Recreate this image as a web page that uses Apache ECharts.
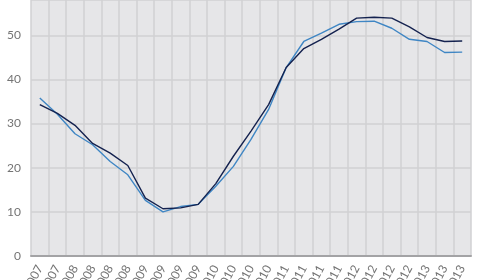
<!DOCTYPE html>
<html>
<head>
<meta charset="utf-8">
<script src="https://cdn.jsdelivr.net/npm/echarts@6/dist/echarts.min.js"></script>
<style>
html,body{margin:0;padding:0;background:#fff;}
#chart{width:480px;height:280px;}
</style>
</head>
<body>
<div id="chart"></div>
<script>
var categories = ["2007","2007","2008","2008","2008","2008","2009","2009","2009","2009","2010","2010","2010","2010","2011","2011","2011","2011","2012","2012","2012","2012","2013","2013","2013"];
var seriesDark = [34.3,32.3,29.6,25.5,23.3,20.5,13.1,10.7,10.9,11.7,16.4,22.6,28.3,34.3,42.7,47.0,49.1,51.4,53.9,54.1,53.9,51.9,49.5,48.6,48.7];
var seriesLight = [35.8,32.1,27.7,25.2,21.4,18.4,12.6,10.0,11.2,11.7,15.8,20.3,26.4,33.2,42.7,48.6,50.5,52.5,53.1,53.2,51.6,49.1,48.6,46.1,46.2];
var yTicks = [0,10,20,30,40,50];

var chart = echarts.init(document.getElementById('chart'), null, {renderer:'canvas'});
chart.setOption({
  backgroundColor:'#ffffff',
  animation:false,
  grid:{left:31,right:9,top:0,bottom:24,show:true,backgroundColor:'#e6e6e8',borderWidth:0,
        containLabel:false,outerBoundsMode:'none'},
  xAxis:{
    type:'category',
    data:categories,
    boundaryGap:true,
    axisLine:{show:true,lineStyle:{color:'#a3a3a5',width:2}},
    axisTick:{show:false},
    splitLine:{show:true,interval:0,lineStyle:{color:'#d0d0d3',width:1.5}},
    axisLabel:{interval:0,rotate:62,color:'#747474',fontSize:12,fontFamily:'Lato',margin:10}
  },
  yAxis:{
    type:'value',
    min:0,max:58,interval:10,
    axisLine:{show:false},
    axisTick:{show:false},
    splitLine:{show:true,lineStyle:{color:'#d0d0d3',width:1.5}},
    axisLabel:{color:'#747474',fontSize:12,fontFamily:'Lato',margin:10,showMaxLabel:false,
      formatter:function(v){return yTicks.indexOf(v)>=0?String(v):'';}}
  },
  series:[
    {type:'line',data:seriesLight,showSymbol:false,symbol:'none',lineStyle:{color:'#3f86c4',width:1.4},z:2},
    {type:'line',data:seriesDark,showSymbol:false,symbol:'none',lineStyle:{color:'#14224f',width:1.4},z:3}
  ]
});
</script>
</body>
</html>
